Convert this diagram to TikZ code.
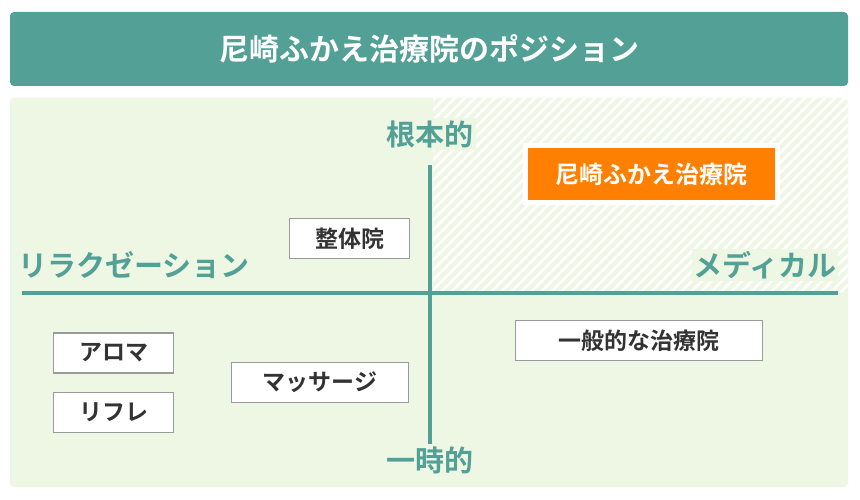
\documentclass[tikz,border=0pt]{standalone}
\usepackage{fontspec}
\newfontfamily\jp{Noto Sans CJK JP}[BoldFont={* Bold}]
\usetikzlibrary{positioning}
\definecolor{teal}{HTML}{52A096}
\definecolor{pale}{HTML}{EEF6E4}
\definecolor{orng}{HTML}{FF8000}
\definecolor{edge}{HTML}{9A9A9A}
\definecolor{ink}{HTML}{333333}
\begin{document}
\begin{tikzpicture}[x=1pt,y=-1pt,every node/.style={font=\jp\bfseries},
  box/.style={draw=edge,line width=1.5pt,fill=white,text=ink,minimum height=40pt,font=\jp\bfseries\fontsize{23}{23}\selectfont},
  axislabel/.style={text=teal,fill=pale,inner sep=2pt,font=\jp\bfseries\fontsize{29}{29}\selectfont}]
    \useasboundingbox[fill=white] (0,0) rectangle (860,500);
    % title bar and panel
    \fill[teal,rounded corners=4pt] (10,12) rectangle (848,86);
    \node[text=white,font=\jp\bfseries\fontsize{30}{30}\selectfont] (title) at (429,49) {尼崎ふかえ治療院のポジション};
    \fill[pale,rounded corners=4pt] (10,98) rectangle (848,487);
    % hatched quadrant
    \begin{scope}
        \clip (433,98) rectangle (848,292);
        \foreach \i in {0,10,...,640}
            \draw[white,line width=2.5pt] (433+\i-220,300) -- (433+\i,80);
    \end{scope}
    % axes
    \coordinate (left) at (22,293);
    \coordinate (right) at (838,293);
    \coordinate (top) at (430,165);
    \coordinate (bottom) at (430,455);
    \draw[teal,line width=3.5pt] (left) -- (right);
    \draw[teal,line width=3.5pt] (top) -- (bottom);
    \node[axislabel] (fund) at (430,134) {根本的};
    \node[axislabel] (temp) at (430,460) {一時的};
    \node[axislabel] (relax) at (134,265) {リラクゼーション};
    \node[axislabel] (medic) at (765,265) {メディカル};
    % boxes
    \node[box,minimum width=120pt] (seitai) at (349.5,238.5) {整体院};
    \node[box,minimum width=120pt] (aroma) at (113.5,353) {アロマ};
    \node[box,minimum width=120pt] (reflex) at (113.5,412.5) {リフレ};
    \node[box,minimum width=177pt] (massage) at (320,382.5) {マッサージ};
    \node[box,minimum width=247pt] (general) at (639,340.5) {一般的な治療院};
    \node[fill=orng,draw=white,line width=5pt,text=white,minimum width=252pt,minimum height=57pt,
        font=\jp\bfseries\fontsize{24}{24}\selectfont] (ours) at (651.5,174) {尼崎ふかえ治療院};
\end{tikzpicture}
\end{document}
